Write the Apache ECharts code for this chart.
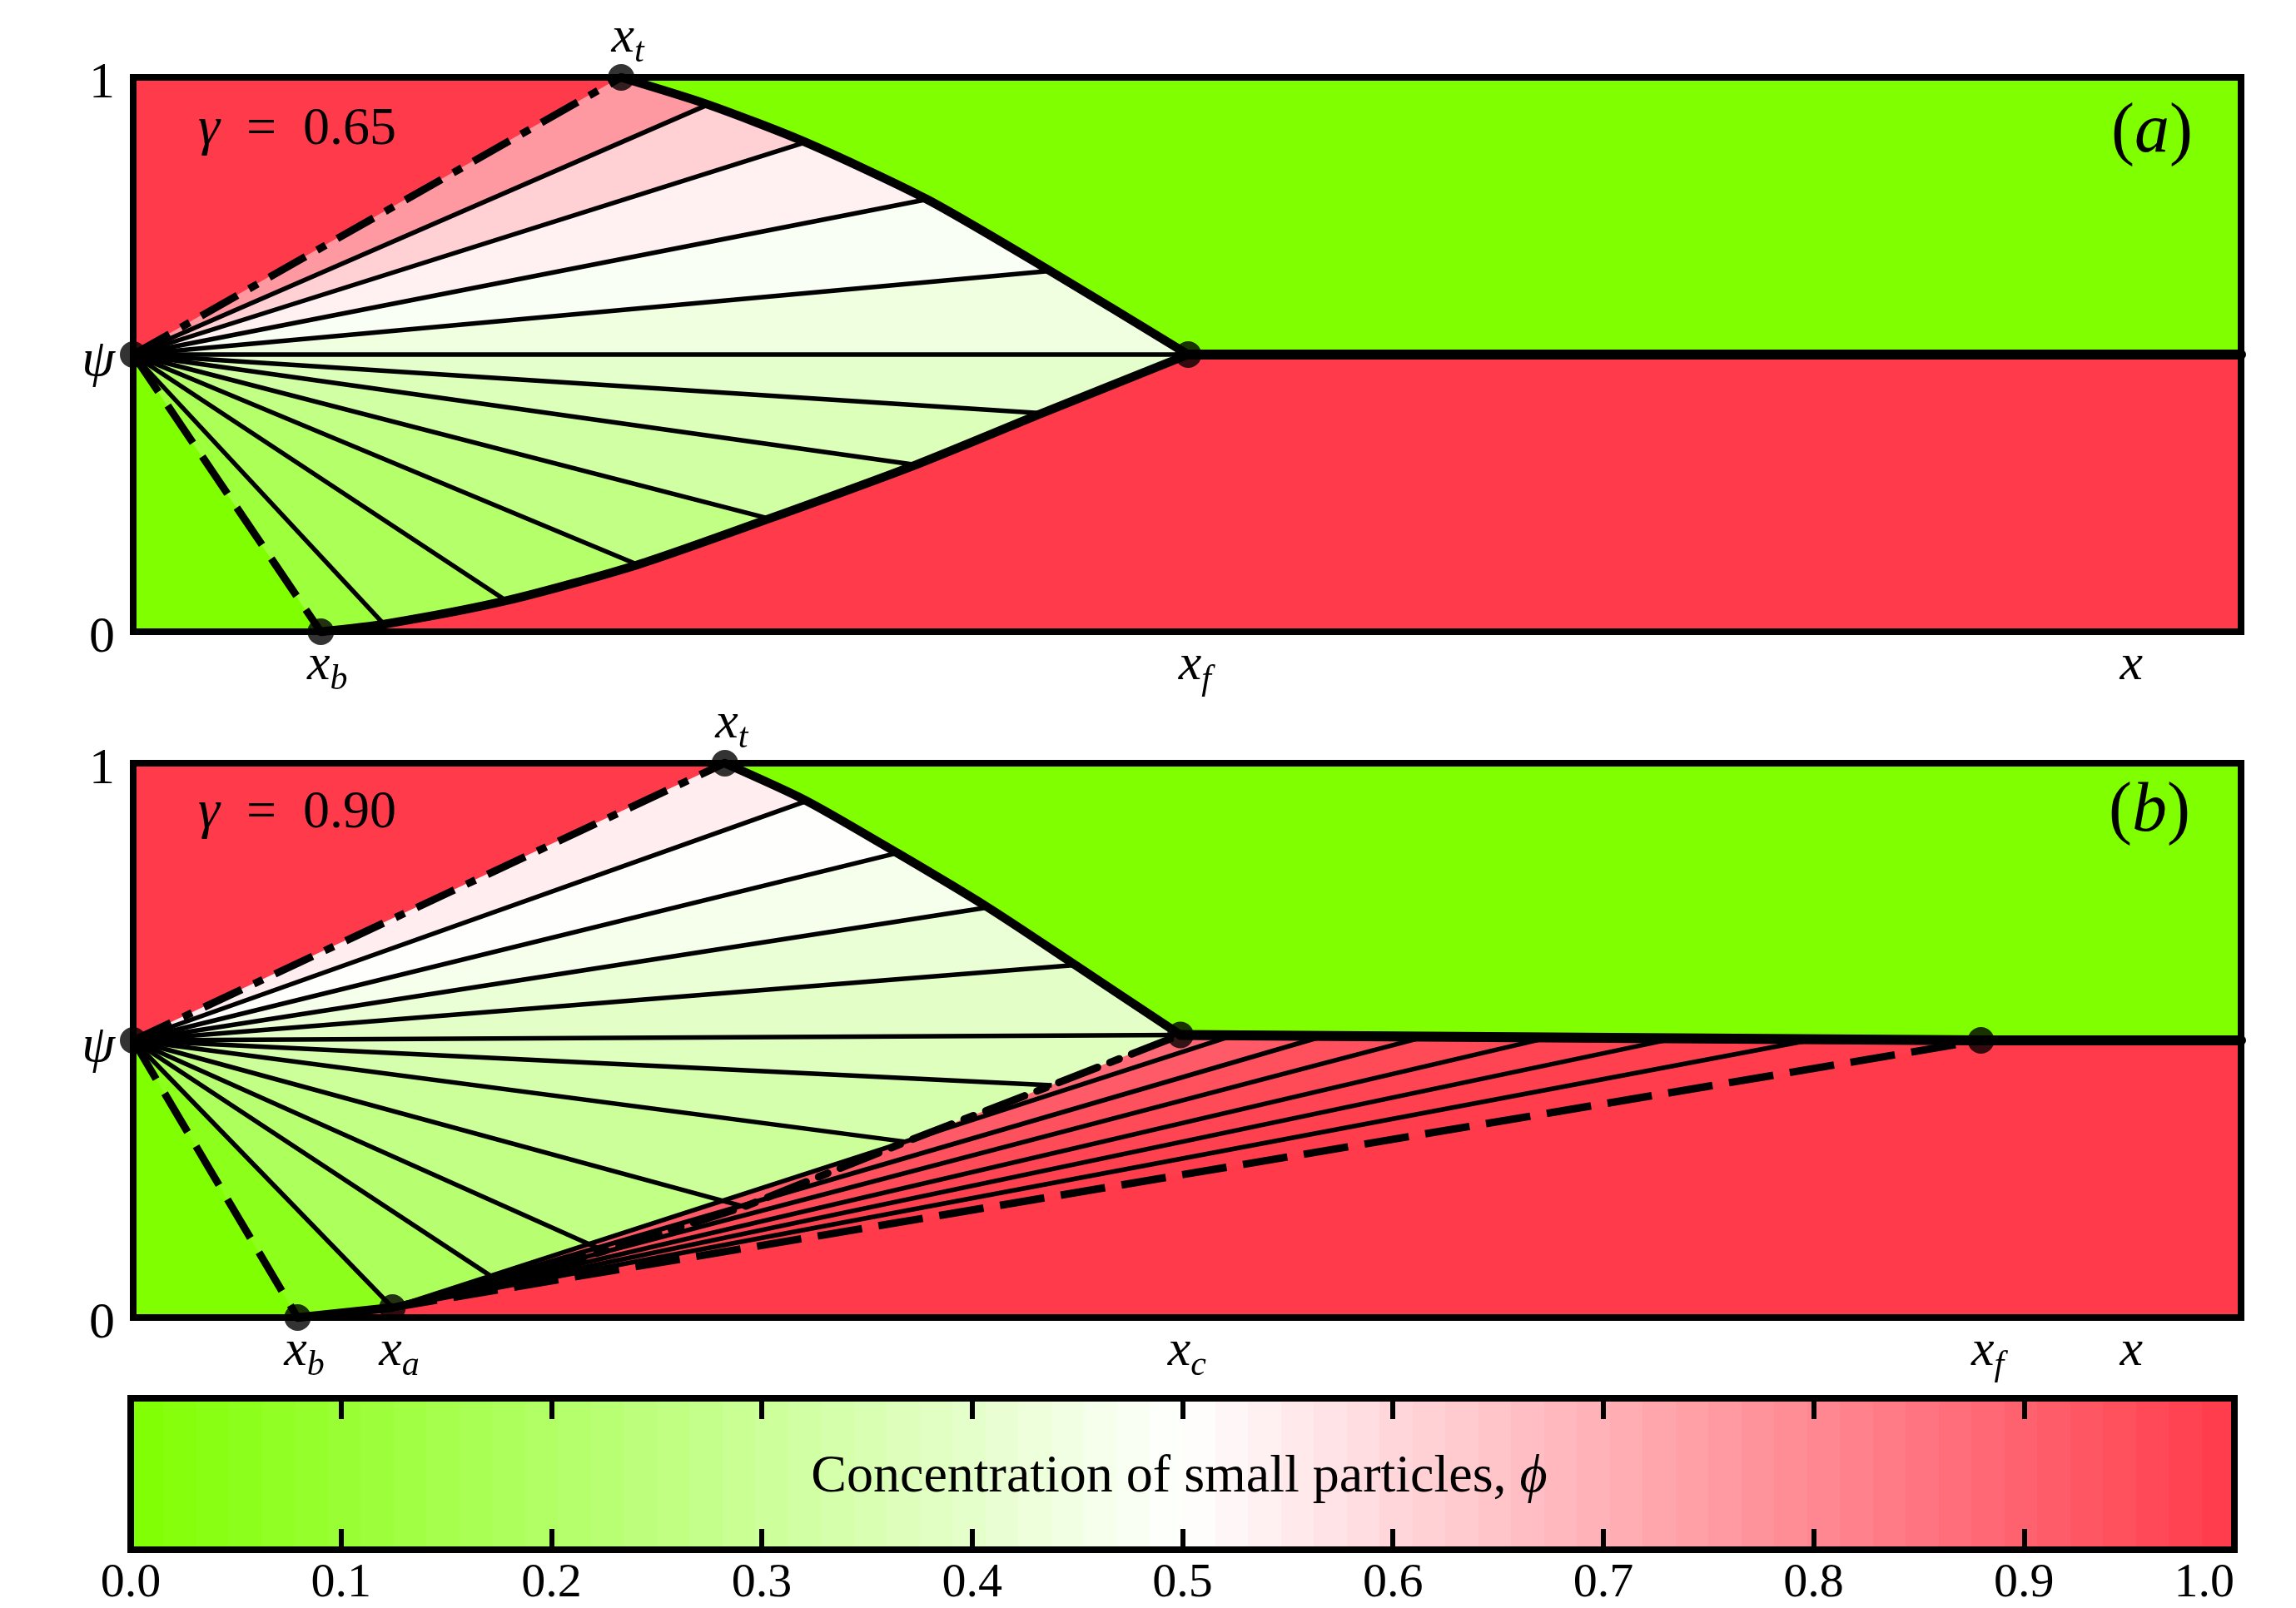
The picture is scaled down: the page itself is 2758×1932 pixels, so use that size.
<!DOCTYPE html>
<html>
<head>
<meta charset="utf-8">
<script src="https://cdn.jsdelivr.net/npm/echarts@6/dist/echarts.min.js"></script>
<style>
  html, body { margin: 0; padding: 0; background: #ffffff; }
  #chart { width: 2758px; height: 1932px; }
</style>
</head>
<body>
<div id="chart"></div>
<script>
// ---------- panel (a): gamma = 0.65 ----------
const gammaA = '0.65';
const psiA = 0.5;
const xtA = [0.2315, 1];
const xbA = [0.089, 0];
const xfA = [0.5005, 0.5];
const upperEndsA = [[0.2727, 0.951], [0.319, 0.883], [0.3766, 0.780], [0.435, 0.651]];
const lowerEndsA = [[0.431, 0.394], [0.3712, 0.301], [0.3017, 0.204], [0.2394, 0.121], [0.177, 0.056], [0.119, 0.0135]];
// concentration in each fan sector, top to bottom
const phiA = [0.76, 0.62, 0.535, 0.48, 0.44, 0.40, 0.365, 0.32, 0.26, 0.21, 0.17, 0.12];

// ---------- panel (b): gamma = 0.90 ----------
const gammaB = '0.90';
const psiB = 0.5;
const xtB = [0.2807, 1];
const xcB = [0.4968, 0.5098];
const xfB = [0.8766, 0.5];
const xbB = [0.078, 0];
const xaB = [0.123, 0.018];
const upperEndsB = [[0.3195, 0.932], [0.3625, 0.838], [0.4054, 0.740], [0.4469, 0.636]];
const lowerEndsB = [[0.4358, 0.419], [0.3666, 0.317], [0.290, 0.200], [0.2235, 0.120], [0.174, 0.064]];
const phiB = [0.545, 0.495, 0.46, 0.42, 0.39, 0.37, 0.34, 0.30, 0.26, 0.22, 0.18, 0.05];
// second fan, centred on x_a, ending on the x_c – x_f front
const redEndsB = [[0.5215, 0.5085], [0.5645, 0.5075], [0.6125, 0.5063], [0.671, 0.5047], [0.7307, 0.5032], [0.797, 0.5015]];
const phiRedB = [0.88, 0.92, 0.945, 0.96, 0.975, 0.985, 0.993];

// ---------- axis labels ----------
const xLabelPos = 0.948;
const bottomLabelsA = [[xbA[0], 'b'], [xfA[0], 'f'], [xLabelPos, '']];
const topLabelsA = [[xtA[0], 't']];
const bottomLabelsB = [[xbB[0], 'b'], [xaB[0], 'a'], [xcB[0], 'c'], [xfB[0], 'f'], [xLabelPos, '']];
const topLabelsB = [[xtB[0], 't']];
const psiTickLabels = [[0, '0'], [0.5, '{g|ψ}'], [1, '1']];

// ---------- colour bar ----------
const cbRange = [0, 1];
const cbSteps = 64;
const cbTitle = 'Concentration of small particles, {i|ϕ}';

// colormap: green (phi = 0) -> white (0.5) -> red (1)
const cmapStops = [[0, [127, 255, 0]], [0.5, [255, 255, 255]], [1, [255, 58, 74]]];
function cmap(v) {
  v = Math.max(0, Math.min(1, v));
  for (let i = 0; i < cmapStops.length - 1; i++) {
    const a = cmapStops[i], b = cmapStops[i + 1];
    if (v <= b[0]) {
      const t = (v - a[0]) / (b[0] - a[0]);
      const c = a[1].map((ch, k) => Math.round(ch + (b[1][k] - ch) * t));
      return 'rgb(' + c.join(',') + ')';
    }
  }
  return 'rgb(' + cmapStops[cmapStops.length - 1][1].join(',') + ')';
}

const FONT = 'Liberation Serif';
const G = [
  { left: 160, top: 93, width: 2532, height: 666 },
  { left: 160, top: 917, width: 2532, height: 666 },
  { left: 157, top: 1680, width: 2527, height: 191 }
];

// ---------- polygons ----------
function fanSectors(apex, rays, phis) {
  return phis.map((phi, i) => ({ pts: [apex, rays[i], rays[i + 1]], phi: phi }));
}
const apexA = [0, psiA];
const raysA = [xtA, ...upperEndsA, xfA, ...lowerEndsA, xbA];
const polysA = [
  { pts: [[0, psiA], [1, psiA], [1, 1], [0, 1]], phi: 0 },
  { pts: [[0, 0], [1, 0], [1, psiA], [0, psiA]], phi: 1 },
  { pts: [apexA, [0, 1], xtA], phi: 1 },
  { pts: [apexA, [0, 0], xbA], phi: 0 },
  ...fanSectors(apexA, raysA, phiA)
];

const apexB = [0, psiB];
const raysB = [xtB, ...upperEndsB, xcB, ...lowerEndsB, xaB, xbB];
const redRaysB = [...redEndsB, xfB];
const lowerCurveB = [xaB, ...lowerEndsB.slice().reverse(), xcB];
const polysB = [
  { pts: [[0, psiB], [1, psiB], [1, 1], [0, 1]], phi: 0 },
  { pts: [[0, 0], [1, 0], [1, psiB], [0, psiB]], phi: 1 },
  { pts: [apexB, [0, 1], xtB], phi: 1 },
  { pts: [apexB, [0, 0], xbB], phi: 0 },
  ...fanSectors(apexB, raysB, phiB),
  { pts: [...lowerCurveB, redEndsB[0]], phi: phiRedB[0] },
  ...redRaysB.slice(0, -1).map((p, i) => ({ pts: [xaB, p, redRaysB[i + 1]], phi: phiRedB[i + 1] }))
];

function polySeries(polys, gi) {
  return {
    type: 'custom', xAxisIndex: gi * 2, yAxisIndex: gi * 2, z: 1, silent: true, clip: true,
    data: polys.map((p, i) => [0.5, 0.5, i]),
    renderItem: function (params, api) {
      const p = polys[api.value(2)];
      const col = cmap(p.phi);
      return {
        type: 'polygon',
        shape: { points: p.pts.map(pt => api.coord(pt)) },
        style: { fill: col, stroke: col, lineWidth: 1.2 }
      };
    }
  };
}

// straight segments (characteristics)
function linesSeries(gi, segs, width, type, z) {
  return {
    type: 'lines', coordinateSystem: 'cartesian2d', xAxisIndex: gi * 2, yAxisIndex: gi * 2,
    silent: true, z: z,
    lineStyle: { color: '#000', width: width, type: type, opacity: 1, cap: 'butt' },
    data: segs.map(s => ({ coords: s }))
  };
}
// fronts through the fan end points
function curveSeries(gi, pts, width, type, z, smooth) {
  return {
    type: 'line', xAxisIndex: gi * 2, yAxisIndex: gi * 2, silent: true, z: z,
    data: pts, symbol: 'none', showSymbol: false,
    smooth: smooth, clip: false,
    lineStyle: { color: '#000', width: width, type: type, cap: 'round', join: 'round' }
  };
}

const DASH = [54, 20];
const DASHDOT = [50, 16, 12, 16];
const THIN = 5.5, THICK = 10.5, FRONT = 12, DASHW = 9, DOT = 32;

const seriesA = [
  polySeries(polysA, 0),
  linesSeries(0, [...upperEndsA, xfA, ...lowerEndsA].map(p => [apexA, p]), THIN, 'solid', 3),
  curveSeries(0, [xtA, ...upperEndsA, xfA], THICK, 'solid', 4, 0.25),
  curveSeries(0, [xbA, ...lowerEndsA.slice().reverse(), xfA], THICK, 'solid', 4, 0.25),
  curveSeries(0, [xfA, [1, psiA]], FRONT, 'solid', 4, false),
  linesSeries(0, [[apexA, xtA]], DASHW, DASHDOT, 5),
  linesSeries(0, [[apexA, xbA]], DASHW, DASH, 5),
  {
    type: 'scatter', xAxisIndex: 0, yAxisIndex: 0, z: 6, silent: true,
    symbol: 'circle', symbolSize: DOT, itemStyle: { color: '#000' },
    data: [apexA, xtA, xbA, xfA]
  }
];

const seriesB = [
  polySeries(polysB, 1),
  linesSeries(1, [...upperEndsB, xcB, ...lowerEndsB, xaB].map(p => [apexB, p]), THIN, 'solid', 3),
  linesSeries(1, redEndsB.map(p => [xaB, p]), THIN, 'solid', 3),
  curveSeries(1, [xtB, ...upperEndsB, xcB], THICK, 'solid', 4, 0.25),
  curveSeries(1, [xbB, xaB], THICK, 'solid', 4, false),
  curveSeries(1, [xcB, xfB, [1, psiB]], FRONT, 'solid', 4, false),
  linesSeries(1, [[apexB, xtB]], DASHW, DASHDOT, 5),
  curveSeries(1, lowerCurveB, DASHW, DASHDOT, 5, false),
  linesSeries(1, [[apexB, xbB], [xaB, xfB]], DASHW, DASH, 5),
  {
    type: 'scatter', xAxisIndex: 2, yAxisIndex: 2, z: 6, silent: true,
    symbol: 'circle', symbolSize: DOT, itemStyle: { color: '#000' },
    data: [apexB, xtB, xbB, xaB, xcB, xfB]
  }
];

// stepped colour bar fill
const cbStops = [];
for (let k = 0; k < cbSteps; k++) {
  const c = cmap((k + 0.5) / cbSteps);
  cbStops.push({ offset: k / cbSteps, color: c }, { offset: (k + 1) / cbSteps, color: c });
}
const seriesCB = [{
  type: 'custom', xAxisIndex: 4, yAxisIndex: 4, z: 1, silent: true,
  data: [[cbRange[0], 0, cbRange[1], 1]],
  renderItem: function (params, api) {
    const p0 = api.coord([api.value(0), api.value(1)]);
    const p1 = api.coord([api.value(2), api.value(3)]);
    return {
      type: 'rect',
      shape: { x: p0[0], y: p1[1], width: p1[0] - p0[0], height: p0[1] - p1[1] },
      style: { fill: { type: 'linear', x: 0, y: 0, x2: 1, y2: 0, colorStops: cbStops } }
    };
  }
}];

// ---------- axes ----------
const frameLine = { show: true, onZero: false, lineStyle: { color: '#000', width: 8, cap: 'square' } };
const subRich = {
  m: { fontFamily: FONT, fontStyle: 'italic', fontSize: 62, lineHeight: 62, verticalAlign: 'top', color: '#000' },
  mp: { fontFamily: FONT, fontStyle: 'italic', fontSize: 62, lineHeight: 62, verticalAlign: 'top', color: '#000', padding: [0, 0, 0, 16] },
  s: { fontFamily: FONT, fontStyle: 'italic', fontSize: 42, lineHeight: 42, verticalAlign: 'top', color: '#000', padding: [27, 0, 0, 0] }
};
function labelFmt(list) {
  return function (v) {
    const hit = list.find(d => Math.abs(d[0] - v) < 1e-9);
    if (!hit) return '';
    return hit[1] ? '{mp|x}{s|' + hit[1] + '}' : '{m|x}';
  };
}
function panelXAxes(gi, bottomList, topList) {
  return [
    {
      gridIndex: gi, type: 'value', min: 0, max: 1, position: 'bottom', z: 10,
      axisLine: frameLine, axisTick: { show: false }, splitLine: { show: false },
      axisLabel: { show: true, customValues: bottomList.map(d => d[0]), formatter: labelFmt(bottomList), margin: 10, rich: subRich }
    },
    {
      gridIndex: gi, type: 'value', min: 0, max: 1, position: 'top', z: 10,
      axisLine: frameLine, axisTick: { show: false }, splitLine: { show: false },
      axisLabel: { show: true, customValues: topList.map(d => d[0]), formatter: labelFmt(topList), margin: 16, rich: subRich }
    }
  ];
}
function panelYAxes(gi) {
  return [
    {
      gridIndex: gi, type: 'value', min: 0, max: 1, interval: 0.5, position: 'left', z: 10,
      axisLine: frameLine, axisTick: { show: false }, splitLine: { show: false },
      axisLabel: {
        show: true, margin: 22, padding: [16, 0, 0, 0],
        fontFamily: FONT, fontSize: 62, color: '#000',
        formatter: function (v) {
          const hit = psiTickLabels.find(d => Math.abs(d[0] - v) < 1e-9);
          return hit ? hit[1] : '';
        },
        rich: { g: { fontFamily: FONT, fontStyle: 'italic', fontSize: 64, color: '#000' } }
      }
    },
    {
      gridIndex: gi, type: 'value', min: 0, max: 1, position: 'right', z: 10,
      axisLine: frameLine, axisTick: { show: false }, splitLine: { show: false }, axisLabel: { show: false }
    }
  ];
}

const cbTick = { show: true, inside: true, length: 25, lineStyle: { color: '#000', width: 6 } };
const xAxes = [
  ...panelXAxes(0, bottomLabelsA, topLabelsA),
  ...panelXAxes(1, bottomLabelsB, topLabelsB),
  {
    gridIndex: 2, type: 'value', min: cbRange[0], max: cbRange[1], interval: 0.1, position: 'bottom', z: 10,
    axisLine: frameLine, axisTick: cbTick, splitLine: { show: false },
    axisLabel: {
      show: true, margin: 12, fontFamily: FONT, fontSize: 58, color: '#000',
      alignMaxLabel: 'right', formatter: v => v.toFixed(1)
    }
  },
  {
    gridIndex: 2, type: 'value', min: cbRange[0], max: cbRange[1], interval: 0.1, position: 'top', z: 10,
    axisLine: frameLine, axisTick: cbTick, splitLine: { show: false }, axisLabel: { show: false }
  }
];
const yAxes = [
  ...panelYAxes(0),
  ...panelYAxes(1),
  {
    gridIndex: 2, type: 'value', min: 0, max: 1, position: 'left', z: 10,
    axisLine: frameLine, axisTick: { show: false }, splitLine: { show: false }, axisLabel: { show: false }
  },
  {
    gridIndex: 2, type: 'value', min: 0, max: 1, position: 'right', z: 10,
    axisLine: frameLine, axisTick: { show: false }, splitLine: { show: false }, axisLabel: { show: false }
  }
];

// ---------- annotations ----------
const greekRich = {
  g: { fontFamily: FONT, fontStyle: 'italic', fontSize: 66, color: '#000' },
  i: { fontFamily: FONT, fontStyle: 'italic', fontSize: 64, color: '#000' },
  p: { fontFamily: FONT, fontStyle: 'italic', fontSize: 84, color: '#000' }
};
function note(x, y, text, size, align) {
  return {
    type: 'text', x: x, y: y, z: 20, silent: true,
    style: {
      text: text, fontFamily: FONT, fontSize: size, fill: '#000',
      align: align, verticalAlign: 'middle', rich: greekRich
    }
  };
}
const graphics = [
  note(G[0].left + 78, G[0].top + 63, '{g|γ}\u2002=\u2002' + gammaA, 64, 'left'),
  note(G[1].left + 78, G[1].top + 60, '{g|γ}\u2002=\u2002' + gammaB, 64, 'left'),
  note(G[0].left + G[0].width - 107, G[0].top + 67, '({p|a})', 84, 'center'),
  note(G[1].left + G[1].width - 110, G[1].top + 59, '({p|b})', 84, 'center'),
  note(G[2].left + G[2].width / 2 - 4, G[2].top + G[2].height / 2, cbTitle, 64, 'center')
];

const chart = echarts.init(document.getElementById('chart'), null, { renderer: 'canvas' });
chart.setOption({
  animation: false,
  backgroundColor: '#ffffff',
  grid: G.map(g => Object.assign({ containLabel: false }, g)),
  xAxis: xAxes,
  yAxis: yAxes,
  series: [...seriesA, ...seriesB, ...seriesCB],
  graphic: graphics
});
</script>
</body>
</html>
